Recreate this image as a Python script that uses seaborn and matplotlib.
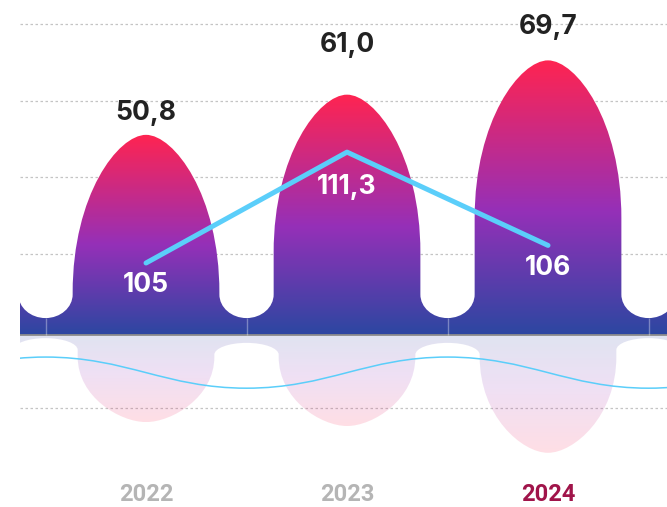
import numpy as np
import pandas as pd
import seaborn as sns
import matplotlib.pyplot as plt
from matplotlib.path import Path
from matplotlib.patches import PathPatch
from matplotlib.colors import LinearSegmentedColormap

# values
years = ["2022", "2023", "2024"]
volume = [50.8, 61.0, 69.7]            # arches above the axis
mirror = [22.1, 23.1, 29.9]            # reflected arches below the axis
index_vals = [105, 111.3, 106]         # blue line
wave_x = [-1.5, -0.5, 0.5, 1.5, 2.5, 3.5]   # thin line under the axis
wave_y = [13.5, 5.6, 13.5, 5.6, 13.5, 5.6]

grid_vals = [-18.5, 20.6, 40.1, 59.5, 78.9]
valley_top = [4.3, 4.3, 4.3, 4.3]
valley_low = [0.8, 2.0, 2.0, 0.8]

sns.set_theme(style="white")
plt.rcParams['font.family'] = ['Inter', 'DejaVu Sans']

PX = 3.94          # pixels per unit on the main axis
fig = plt.figure(figsize=(6.67, 5.07), dpi=100)
ax = fig.add_axes([20 / 667, 32 / 507, 647 / 667, 475 / 507])
x0, x1 = -0.627, 2.592
y0, y1 = -(475 - 335) / PX, 335 / PX

cmap = LinearSegmentedColormap.from_list(
    "arch", [(0, "#2c47a1"), (0.45, "#9530b8"), (1, "#ff2451")])
K = 0.5523


def bump_path(heights, valleys, W, cap, R, sign=1, ka=0.62, kb=0.38):
    # bullet shaped arches: rounded cap, straight walls, rounded notches
    hs = [heights[0]] + list(heights) + [heights[-1]]
    cs = list(range(-1, len(heights) + 1))
    vs = [valleys[0]] + list(valleys) + [valleys[-1]]
    verts = [(cs[0] - 0.5, 0), (cs[0] - 0.5, vs[0])]
    codes = [Path.MOVETO, Path.LINETO]
    for j, (c, h) in enumerate(zip(cs, hs)):
        vl, vr = vs[j], vs[j + 1]
        B = cap(h)
        g = 0.5 - W
        verts += [(c - 0.5 + K * g, vl), (c - W, vl + (1 - K) * R), (c - W, vl + R),
                  (c - W, h - B),
                  (c - W, h - B + ka * B), (c - kb * W, h), (c, h),
                  (c + kb * W, h), (c + W, h - B + ka * B), (c + W, h - B),
                  (c + W, vr + R),
                  (c + W, vr + (1 - K) * R), (c + 0.5 - K * g, vr), (c + 0.5, vr)]
        codes += [Path.CURVE4] * 3 + [Path.LINETO] + [Path.CURVE4] * 6 \
            + [Path.LINETO] + [Path.CURVE4] * 3
    verts += [(cs[-1] + 0.5, 0), (cs[0] - 0.5, 0)]
    codes += [Path.LINETO, Path.CLOSEPOLY]
    verts = [(x, sign * y) for x, y in verts]
    return Path(verts, codes), cs, hs


def smooth_line(xs, ys, hand=0.4):
    verts = [(xs[0], ys[0])]
    codes = [Path.MOVETO]
    for i in range(len(xs) - 1):
        dx = xs[i + 1] - xs[i]
        verts += [(xs[i] + hand * dx, ys[i]),
                  (xs[i + 1] - hand * dx, ys[i + 1]),
                  (xs[i + 1], ys[i + 1])]
        codes += [Path.CURVE4] * 3
    return Path(verts, codes)


grad = np.linspace(0, 1, 256).reshape(-1, 1)

# main arches, each with its own vertical gradient
path, cs, hs = bump_path(volume, valley_top, W=0.365,
                         cap=lambda h: min(40, h - 10.3), R=6.0)
top_patch = PathPatch(path, facecolor="none", edgecolor="none")
ax.add_patch(top_patch)
for c, h in zip(cs, hs):
    im = ax.imshow(grad, extent=[c - 0.5, c + 0.5, 0, h], origin="lower",
                   cmap=cmap, aspect="auto", zorder=2, interpolation="bilinear")
    im.set_clip_path(top_patch)

# faded reflection
path, cs, hs = bump_path(mirror, valley_low, W=0.34,
                         cap=lambda h: h - 5.5, R=3.0, sign=-1)
low_patch = PathPatch(path, facecolor="none", edgecolor="none")
ax.add_patch(low_patch)
for c, h in zip(cs, hs):
    im2 = ax.imshow(grad, extent=[c - 0.5, c + 0.5, -h, 0], origin="upper",
                    cmap=cmap, aspect="auto", zorder=2, alpha=0.15,
                    interpolation="bilinear")
    im2.set_clip_path(low_patch)

ax.add_patch(PathPatch(smooth_line(wave_x, [-w for w in wave_y]),
                       facecolor="none", edgecolor="#5bcefa", lw=1.1, zorder=3))

ax.axhline(0, color="#8c8c8c", lw=1.3, zorder=3)
ax.vlines([-0.5, 0.5, 1.5, 2.5], 0, valley_top, color="white", alpha=0.35,
          lw=1, zorder=3)

ax.set_xlim(x0, x1)
ax.set_ylim(y0, y1)
ax.set_yticks(grid_vals)
ax.set_yticklabels([])
ax.grid(axis="y", ls=(0, (2, 2)), color="#c4c4c4", lw=0.9)
ax.set_axisbelow(True)
sns.despine(ax=ax, left=True, bottom=True)

ax.set_xticks(range(len(years)))
ax.set_xticklabels(years, fontfamily="Roboto", fontweight="bold", fontsize=17)
for lab, c in zip(ax.get_xticklabels(), ["#b5b5b5", "#b5b5b5", "#a0144a"]):
    lab.set_color(c)
ax.tick_params(axis="both", length=0)
ax.tick_params(axis="x", pad=6)

top_gap = [16, 36, 24]
for i, v in enumerate(volume):
    ax.annotate(f"{v:.1f}".replace(".", ","), (i, v), xytext=(0, top_gap[i]),
                textcoords="offset points", ha="center", va="center",
                fontsize=19, fontweight="bold", color="#222222", zorder=6)

# blue line on its own scale
LPX = 17.6
ax2 = ax.twinx()
base_val = index_vals[0]
base_y = (335 - 263) / PX
to_val = lambda y: base_val + (y - base_y) * PX / LPX
ax2.set_ylim(to_val(y0), to_val(y1))
df = pd.DataFrame({"x": range(len(years)), "v": index_vals})
sns.lineplot(data=df, x="x", y="v", ax=ax2, color="#5bcefa", lw=3.6,
             solid_capstyle="round", zorder=5)
ax2.set_xlim(x0, x1)
ax2.set_axis_off()

low_gap = [16, 25, 16]
for i, v in enumerate(index_vals):
    ax2.annotate(f"{v:g}".replace(".", ","), (i, v), xytext=(0, -low_gap[i]),
                 textcoords="offset points", ha="center", va="center",
                 fontsize=19, fontweight="bold", color="white", zorder=6)

fig.savefig("out.png", dpi=100)
